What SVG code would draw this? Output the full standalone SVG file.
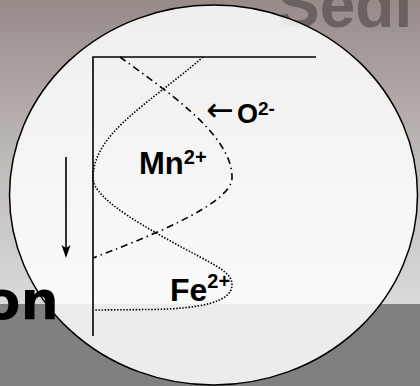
<svg xmlns="http://www.w3.org/2000/svg" width="420" height="386" viewBox="0 0 420 386">
<defs>
<linearGradient id="bg" x1="0" y1="0" x2="0" y2="1">
<stop offset="0" stop-color="#978b88"/>
<stop offset="0.5" stop-color="#bdb8b6"/>
<stop offset="1" stop-color="#dadada"/>
</linearGradient>
<style>
.lbl{font-family:"Liberation Sans",Arial,sans-serif;font-weight:bold;fill:#000}
.ax{stroke:#000;stroke-width:1.6;fill:none}
.dot{stroke:#000;stroke-width:1.6;fill:none;stroke-dasharray:1.5 1.6}
.dd{stroke:#000;stroke-width:1.6;fill:none;stroke-dasharray:7 4 1.5 4}
</style>
</defs>
<g id="background">
<rect x="0" y="0" width="420" height="304" fill="url(#bg)"/>
<rect x="0" y="304" width="420" height="82" fill="#808080"/>
<text class="lbl" x="277" y="27" font-size="64" style="fill:#6b625f">Sedi</text>
</g>
<g id="lens">
<ellipse cx="213.5" cy="195" rx="204" ry="190" fill="#ffffff" fill-opacity="0.85" stroke="#000" stroke-width="1.5"/>
</g>
<g id="title-fragment">
<text x="59" y="319" font-size="54" text-anchor="end" style="font-family:'DejaVu Sans',sans-serif;font-weight:bold;fill:#000">on</text>
</g>
<g id="axes">
<path class="ax" d="M316,57 H93 V336"/>
</g>
<g id="connectors">
<path id="depth-arrow" d="M66,157 V250" stroke="#000" stroke-width="1.6" fill="none"/>
<path d="M66,258 L61.5,245 L66,248 L70.5,245 Z" fill="#000"/>
<path id="mn-fe-curve" class="dot" d="M203,57 C150,103 93,133 93,178 C93,200 150,230 200,257 C225,270 232,276 232,285 C232,302 200,309 150,309.5 L95,310"/>
<path id="o-curve" class="dd" d="M120,57 C165,90 233,135 232,178 C232,205 140,240 93,258"/>
</g>
<g id="label-o">
<text x="206" y="121" font-size="33" style="font-family:'DejaVu Sans',sans-serif;fill:#000">←</text>
<text class="lbl" x="237" y="123" font-size="27">O<tspan font-size="19" dy="-8">2-</tspan></text>
</g>
<g id="label-mn">
<text class="lbl" x="139" y="173.5" font-size="31">Mn<tspan font-size="20" dy="-10">2+</tspan></text>
</g>
<g id="label-fe">
<text class="lbl" x="170" y="301" font-size="32">Fe<tspan font-size="20" dy="-13">2+</tspan></text>
</g>
</svg>
